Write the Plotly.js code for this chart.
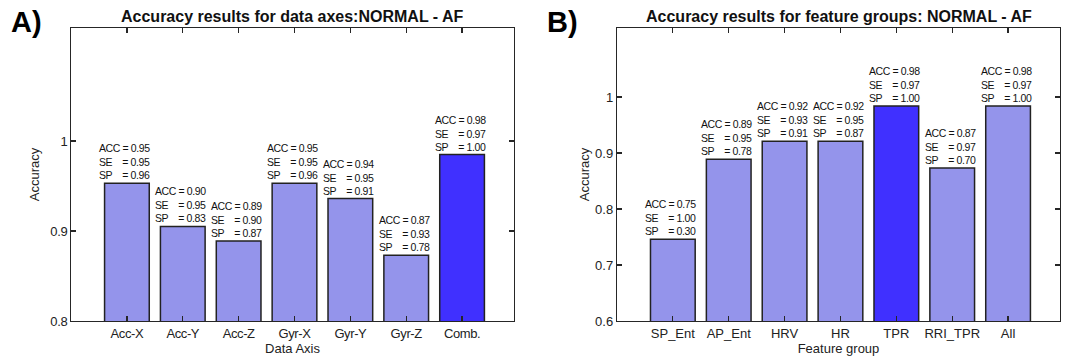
<!DOCTYPE html>
<html>
<head>
<meta charset="utf-8">
<script src="https://cdn.plot.ly/plotly-3.0.1.min.js"></script>
<style>
html,body{margin:0;padding:0;background:#fff;}
#chart{width:1070px;height:358px;}
#chart .annotation-text.val{letter-spacing:-0.4px;}
#chart .xtick text, #chart .ytick text{letter-spacing:-0.4px;}
</style>
</head>
<body>
<div id="chart"></div>
<script>
// ---- Data: panel A (data axes) ----
const axesCategories = ['Acc-X','Acc-Y','Acc-Z','Gyr-X','Gyr-Y','Gyr-Z','Comb.'];
const axesAccuracy = [0.953, 0.905, 0.889, 0.953, 0.936, 0.873, 0.985];
const axesACC = ['0.95','0.90','0.89','0.95','0.94','0.87','0.98'];
const axesSE  = ['0.95','0.95','0.90','0.95','0.95','0.93','0.97'];
const axesSP  = ['0.96','0.83','0.87','0.96','0.91','0.78','1.00'];
const axesHighlight = 'Comb.';

// ---- Data: panel B (feature groups) ----
const groupCategories = ['SP_Ent','AP_Ent','HRV','HR','TPR','RRI_TPR','All'];
const groupAccuracy = [0.746, 0.889, 0.921, 0.921, 0.984, 0.873, 0.984];
const groupACC = ['0.75','0.89','0.92','0.92','0.98','0.87','0.98'];
const groupSE  = ['1.00','0.95','0.93','0.95','0.97','0.97','0.97'];
const groupSP  = ['0.30','0.78','0.91','0.87','1.00','0.70','1.00'];
const groupHighlight = 'TPR';

const LIGHT = '#9494EB';
const DARK = '#4030FF';
const EDGE = '#222222';
const FONT = '"Liberation Sans", Arial, sans-serif';
const NB = '\u00a0';

function barTrace(cats, vals, hl, xa, ya) {
  return {
    type: 'bar', x: cats, y: vals, xaxis: xa, yaxis: ya,
    width: 0.8,
    marker: {color: cats.map(c => c === hl ? DARK : LIGHT), line: {color: EDGE, width: 1.5}},
    hoverinfo: 'x+y', showlegend: false
  };
}

function labelAnns(cats, vals, acc, se, sp, xa, ya) {
  return cats.map((c, i) => ({
    x: c, y: vals[i], xref: xa, yref: ya,
    xanchor: 'center', yanchor: 'bottom', align: 'left', yshift: 0,
    showarrow: false,
    text: 'ACC = ' + acc[i] + '<br>SE' + NB + NB + NB + NB + '= ' + se[i] + '<br>SP' + NB + NB + NB + NB + '= ' + sp[i],
    font: {family: FONT, size: 10.5, color: '#111'}
  }));
}

const axisCommon = {
  showline: true, mirror: 'ticks', linecolor: '#262626', linewidth: 1.2,
  ticks: 'inside', ticklen: 5, tickwidth: 1.2, tickcolor: '#262626',
  showgrid: false, zeroline: false, fixedrange: true,
  tickfont: {family: FONT, size: 13, color: '#222'}
};

const yTop = 0.9218, yBot = 0.1034;

const layout = {
  width: 1070, height: 358,
  margin: {l: 0, r: 0, t: 0, b: 0},
  paper_bgcolor: '#fff', plot_bgcolor: '#fff',
  bargap: 0.2,
  xaxis: Object.assign({}, axisCommon, {
    domain: [0.0664, 0.4804], anchor: 'y', type: 'category', range: [-1, 6.93],
    title: {text: 'Data Axis', font: {family: FONT, size: 13, color: '#222'}, standoff: 2}
  }),
  yaxis: Object.assign({}, axisCommon, {
    domain: [yBot, yTop], anchor: 'x', range: [0.8, 1.1256],
    tickvals: [0.8, 0.9, 1], ticktext: ['0.8', '0.9', '1'],
    title: {text: 'Accuracy', font: {family: FONT, size: 13, color: '#222'}, standoff: 6}
  }),
  xaxis2: Object.assign({}, axisCommon, {
    domain: [0.5766, 0.9907], anchor: 'y2', type: 'category', range: [-1, 6.93],
    title: {text: 'Feature group', font: {family: FONT, size: 13, color: '#222'}, standoff: 2}
  }),
  yaxis2: Object.assign({}, axisCommon, {
    domain: [yBot, yTop], anchor: 'x2', range: [0.6, 1.1232],
    tickvals: [0.6, 0.7, 0.8, 0.9, 1], ticktext: ['0.6', '0.7', '0.8', '0.9', '1'],
    title: {text: 'Accuracy', font: {family: FONT, size: 13, color: '#222'}, standoff: 2}
  }),
  annotations: [].concat(
    labelAnns(axesCategories, axesAccuracy, axesACC, axesSE, axesSP, 'x', 'y'),
    labelAnns(groupCategories, groupAccuracy, groupACC, groupSE, groupSP, 'x2', 'y2'),
    [
      {text: '<b>Accuracy results for data axes:NORMAL - AF</b>', xref: 'paper', yref: 'paper',
       x: (0.0664 + 0.4804) / 2, y: (358 - 17) / 358, xanchor: 'center', yanchor: 'middle', showarrow: false,
       font: {family: FONT, size: 16, color: '#111'}},
      {text: '<b>Accuracy results for feature groups: NORMAL - AF</b>', xref: 'paper', yref: 'paper',
       x: (0.5766 + 0.9907) / 2, y: (358 - 17) / 358, xanchor: 'center', yanchor: 'middle', showarrow: false,
       font: {family: FONT, size: 16, color: '#111'}},
      {text: '<b>A)</b>', xref: 'paper', yref: 'paper', x: 9 / 1070, y: (358 - 22) / 358,
       xanchor: 'left', yanchor: 'middle', showarrow: false, font: {family: FONT, size: 29, color: '#000'}},
      {text: '<b>B)</b>', xref: 'paper', yref: 'paper', x: 545 / 1070, y: (358 - 22) / 358,
       xanchor: 'left', yanchor: 'middle', showarrow: false, font: {family: FONT, size: 29, color: '#000'}}
    ]
  )
};

const data = [
  barTrace(axesCategories, axesAccuracy, axesHighlight, 'x', 'y'),
  barTrace(groupCategories, groupAccuracy, groupHighlight, 'x2', 'y2')
];

Plotly.newPlot('chart', data, layout, {displayModeBar: false, staticPlot: true}).then(gd => {
  const n = axesCategories.length + groupCategories.length;
  gd.querySelectorAll('.annotation').forEach((a, i) => {
    if (i < n) {
      const t = a.querySelector('.annotation-text');
      if (t) t.classList.add('val');
    }
  });
});
</script>
</body>
</html>
